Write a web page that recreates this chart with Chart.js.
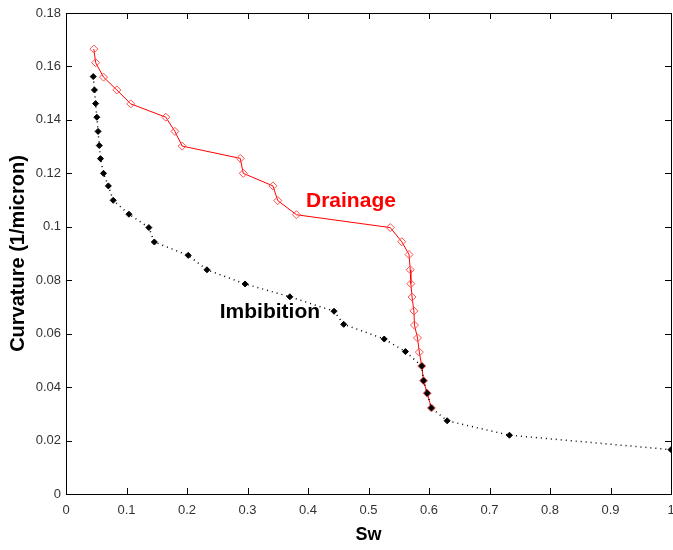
<!DOCTYPE html>
<html>
<head>
<meta charset="utf-8">
<script src="https://cdn.jsdelivr.net/npm/chart.js@4"></script>
<style>
  html, body { margin: 0; padding: 0; background: #fff; overflow: hidden; }
  #curveChart { display: block; }
</style>
</head>
<body>
<canvas id="curveChart" width="673" height="550"></canvas>
<script>
// drainage curve
const drainageSw = [0.046, 0.049, 0.062, 0.084, 0.107, 0.165, 0.180, 0.192, 0.288, 0.293,
  0.342, 0.350, 0.381, 0.536, 0.555, 0.567, 0.569, 0.570, 0.572, 0.575, 0.576, 0.581,
  0.584, 0.588, 0.591, 0.597, 0.604];
const drainageCurv = [0.1665, 0.1614, 0.1560, 0.1512, 0.1460, 0.1410, 0.1357, 0.1302, 0.1256, 0.1200,
  0.1153, 0.1098, 0.1045, 0.0997, 0.0944, 0.0896, 0.0839, 0.0787, 0.0737, 0.0685, 0.0632, 0.0584,
  0.0531, 0.0479, 0.0424, 0.0377, 0.0322];

// imbibition curve
const imbibitionSw = [0.045, 0.047, 0.049, 0.051, 0.053, 0.055, 0.057, 0.062, 0.070, 0.078,
  0.104, 0.137, 0.146, 0.202, 0.233, 0.296, 0.370, 0.443, 0.459, 0.526, 0.561,
  0.588, 0.591, 0.597, 0.604, 0.630, 0.733, 1.0];
const imbibitionCurv = [0.1562, 0.1512, 0.1461, 0.1410, 0.1357, 0.1304, 0.1255, 0.1200, 0.1153, 0.1099,
  0.1047, 0.0997, 0.0943, 0.0893, 0.0839, 0.0786, 0.0738, 0.0684, 0.0635, 0.0580, 0.0533,
  0.0479, 0.0424, 0.0377, 0.0322, 0.0274, 0.0220, 0.0166];

const xTicks = [0, 0.1, 0.2, 0.3, 0.4, 0.5, 0.6, 0.7, 0.8, 0.9, 1];
const yTicks = [0, 0.02, 0.04, 0.06, 0.08, 0.1, 0.12, 0.14, 0.16, 0.18];

const curveLabels = [
  { text: "Drainage", sw: 0.471, curv: 0.1097, color: "#ff0000" },
  { text: "Imbibition", sw: 0.337, curv: 0.0681, color: "#000000" }
];

const fontFamily = "Arial, 'Liberation Sans', sans-serif";

function toPoints(xs, ys) {
  return xs.map((x, i) => ({ x: x, y: ys[i] }));
}

// box + inward ticks on all four sides, plus the curve names
const framePlugin = {
  id: "frame",
  afterDraw(chart) {
    const ctx = chart.ctx;
    const a = chart.chartArea;
    const xs = chart.scales.x;
    const ys = chart.scales.y;
    ctx.save();
    ctx.strokeStyle = "#000";
    ctx.lineWidth = 1;
    ctx.strokeRect(Math.round(a.left) + 0.5, Math.round(a.top) + 0.5,
      Math.round(a.right - a.left), Math.round(a.bottom - a.top));
    ctx.beginPath();
    xTicks.forEach((v) => {
      const px = Math.round(xs.getPixelForValue(v)) + 0.5;
      ctx.moveTo(px, a.bottom); ctx.lineTo(px, a.bottom - 6);
      ctx.moveTo(px, a.top); ctx.lineTo(px, a.top + 6);
    });
    yTicks.forEach((v) => {
      const py = Math.round(ys.getPixelForValue(v)) + 0.5;
      ctx.moveTo(a.left, py); ctx.lineTo(a.left + 6, py);
      ctx.moveTo(a.right, py); ctx.lineTo(a.right - 6, py);
    });
    ctx.stroke();

    ctx.font = "bold 21px " + fontFamily;
    ctx.textAlign = "center";
    ctx.textBaseline = "middle";
    curveLabels.forEach((l) => {
      ctx.fillStyle = l.color;
      ctx.fillText(l.text, xs.getPixelForValue(l.sw), ys.getPixelForValue(l.curv));
    });
    ctx.restore();
  }
};

new Chart(document.getElementById("curveChart").getContext("2d"), {
  type: "scatter",
  data: {
    datasets: [
      {
        label: "Imbibition",
        data: toPoints(imbibitionSw, imbibitionCurv),
        showLine: true,
        order: 0,
        borderColor: "#000",
        borderWidth: 1.5,
        borderDash: [1, 4],
        pointStyle: "rectRot",
        pointRadius: 3,
        pointBackgroundColor: "#000",
        pointBorderColor: "#000",
        pointBorderWidth: 1
      },
      {
        label: "Drainage",
        data: toPoints(drainageSw, drainageCurv),
        showLine: true,
        order: 1,
        borderColor: "#ff0000",
        borderWidth: 1,
        pointStyle: "rectRot",
        pointRadius: 4,
        pointBackgroundColor: "rgba(255,255,255,0)",
        pointBorderColor: "#ff5050",
        pointBorderWidth: 1
      }
    ]
  },
  options: {
    responsive: false,
    animation: false,
    layout: { autoPadding: false, padding: { top: 13, right: 2, left: 0, bottom: 0 } },
    plugins: {
      legend: { display: false },
      tooltip: { enabled: false }
    },
    scales: {
      x: {
        type: "linear",
        min: 0,
        max: 1,
        afterBuildTicks: (s) => { s.ticks = xTicks.map((v) => ({ value: v })); },
        afterFit: (s) => { s.height = 56; s.paddingRight = 0; s.paddingLeft = 0; },
        grid: { display: false, drawTicks: false },
        border: { display: false },
        ticks: {
          padding: 9,
          color: "#333",
          font: { family: fontFamily, size: 13 },
          callback: (v) => String(v)
        },
        title: {
          display: true,
          text: "Sw",
          color: "#000",
          padding: { top: 4, bottom: 4 },
          font: { family: fontFamily, size: 18, weight: "bold" }
        }
      },
      y: {
        type: "linear",
        min: 0,
        max: 0.18,
        afterBuildTicks: (s) => { s.ticks = yTicks.map((v) => ({ value: v })); },
        afterFit: (s) => { s.width = 66; s.paddingTop = 0; s.paddingBottom = 0; },
        grid: { display: false, drawTicks: false },
        border: { display: false },
        ticks: {
          padding: 5,
          color: "#333",
          font: { family: fontFamily, size: 13 },
          callback: (v) => String(v)
        },
        title: {
          display: true,
          text: "Curvature (1/micron)",
          color: "#000",
          padding: { top: 6, bottom: 0 },
          font: { family: fontFamily, size: 20, weight: "bold" }
        }
      }
    }
  },
  plugins: [framePlugin]
});
</script>
</body>
</html>
